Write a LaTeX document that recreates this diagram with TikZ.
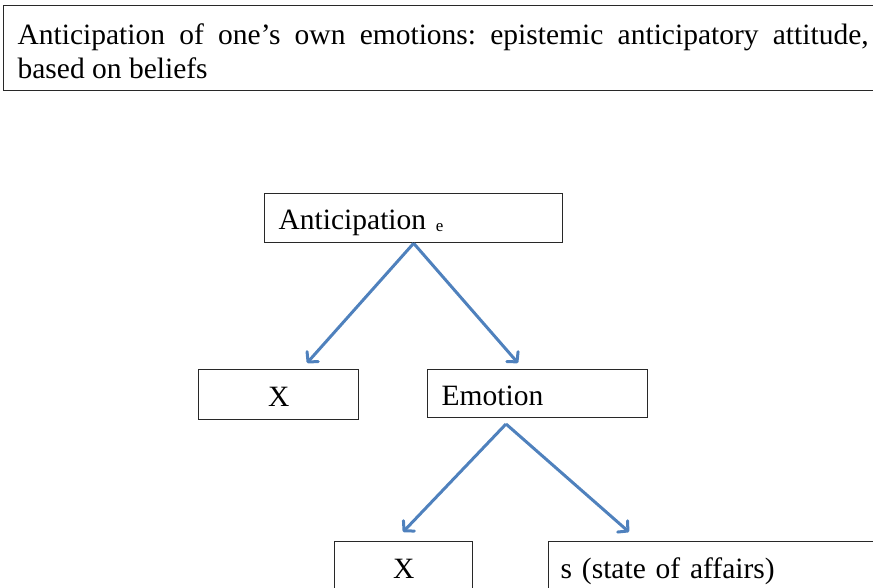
\documentclass[tikz,border=0pt]{standalone}
\usepackage{fontspec}
\setmainfont{Liberation Serif}
\usetikzlibrary{arrows.meta}
\frenchspacing
\definecolor{arrowblue}{RGB}{79,129,189}
\definecolor{frame}{RGB}{40,40,40}
\tikzset{
  box/.style={draw=frame, line width=1.3pt, rectangle, anchor=north west,
    inner xsep=0pt, inner ysep=0pt, text height=24pt, text depth=1pt,
    font=\fontsize{29.5}{34}\selectfont},
  leftbox/.style={box, align=left},
  link/.style={draw=arrowblue, line width=3pt, line join=round,
    -{Straight Barb[length=7pt,width=15pt,line cap=round,line join=round]}}
}
\newcommand{\lowsub}[1]{\raisebox{-2pt}{\fontsize{17}{17}\selectfont #1}}
\begin{document}
\begin{tikzpicture}[x=1pt,y=-1pt]
  \useasboundingbox (0,0) rectangle (873,588);
  \clip (0,0) rectangle (873,588);

  % heading frame, justified over two lines
  \node[draw=frame, line width=1.3pt, anchor=north west, minimum height=85pt,
        inner xsep=14pt, inner ysep=0pt, text width=851pt, align=justify,
        font=\fontsize{29.5}{34}\selectfont] (title) at (3,5)
    {\tolerance=10000\rule{0pt}{27pt}Anticipation of one’s own emotions: epistemic anticipatory attitude, based on beliefs};

  % tree
  \node[leftbox, minimum width=298pt, minimum height=49pt, text width=270pt] (antic) at (264,193)
    {Anticipation \lowsub{e}};
  \node[box, minimum width=160pt, minimum height=50pt] (x1) at (198,369) {X};
  \node[leftbox, minimum width=220pt, minimum height=48pt, text width=192pt] (emo) at (427,369)
    {Emotion};
  \node[box, minimum width=138pt, minimum height=50pt] (x2) at (334,541) {X};
  \node[leftbox, minimum width=360pt, minimum height=50pt, text width=336pt] (soa) at (548,541)
    {s (state of affairs)};

  % connector ends
  \coordinate (emoroot) at (506,424);
  \coordinate (t1) at (307,363);
  \coordinate (t2) at (518,363);
  \coordinate (t3) at (403,532);
  \coordinate (t4) at (629,532);

  \draw[link] (antic.south) -- (t1);
  \draw[link] (antic.south) -- (t2);
  \draw[link] (emoroot) -- (t3);
  \draw[link] (emoroot) -- (t4);
\end{tikzpicture}
\end{document}
